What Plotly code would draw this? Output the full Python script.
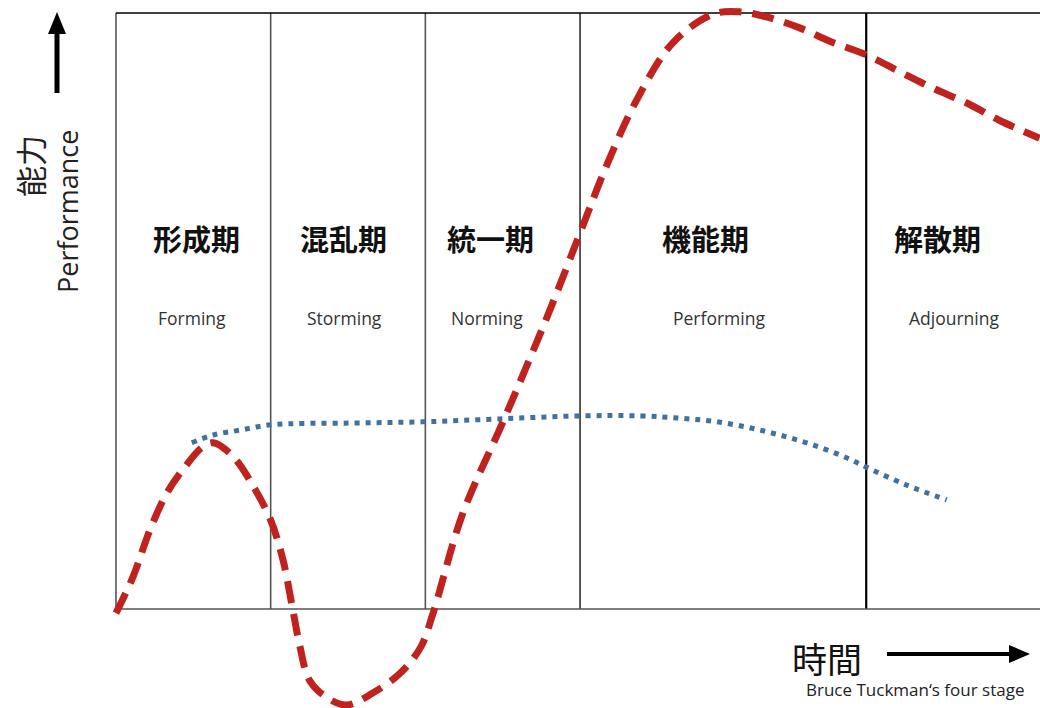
import plotly.graph_objects as go

# Stage names (Japanese / English) and the time at which each stage starts
stages_jp = ["形成期", "混乱期", "統一期", "機能期", "解散期"]
stages_en = ["Forming", "Storming", "Norming", "Performing", "Adjourning"]
stage_bounds = [0, 1, 2, 3, 4.85]

# Team performance over time (red dashed curve)
perf_t = [0.0, 0.11, 0.22, 0.33, 0.43, 0.56, 0.63, 0.76, 0.89, 1.0, 1.08, 1.14,
          1.19, 1.25, 1.36, 1.49, 1.66, 1.84, 1.97, 2.05, 2.24, 2.51, 2.79, 2.99,
          3.17, 3.37, 3.60, 3.86, 4.03, 4.21, 4.42, 4.63, 4.85, 5.07, 5.28, 5.50,
          5.71, 5.97]
perf_v = [-0.7, 5.4, 13.3, 19.5, 23.3, 27.2, 27.9, 25.5, 20.5, 14.9, 8.2, 0.3,
          -6.4, -11.9, -14.8, -16.1, -14.1, -10.7, -6.4, -0.7, 15.9, 31.9, 49.2,
          62.4, 74.3, 85.6, 95.0, 99.8, 100.2, 99.3, 97.5, 95.1, 93.0, 90.1, 87.4,
          84.9, 82.0, 79.0]

# Individual level (blue dotted curve)
ind_t = [0.49, 0.63, 0.80, 1.0, 1.51, 1.98, 2.48, 3.0, 3.39, 3.65, 3.86, 4.08,
         4.29, 4.51, 4.73, 4.85, 5.11, 5.37]
ind_v = [27.9, 29.2, 30.0, 30.9, 31.2, 31.4, 31.9, 32.4, 32.4, 32.0, 31.5, 30.5,
         29.2, 27.5, 25.3, 23.8, 20.8, 18.3]

X_RANGE = [-0.7498, 5.9735]
Y_RANGE = [-16.61, 102.18]

fig = go.Figure()

fig.add_trace(go.Scatter(
    x=ind_t, y=ind_v, mode="lines", line_shape="spline",
    line=dict(color="#41719C", width=5, dash="5px,6px"),
    hoverinfo="skip", showlegend=False))

fig.add_trace(go.Scatter(
    x=perf_t, y=perf_v, mode="lines", line_shape="spline",
    line=dict(color="#C0231E", width=7, dash="22px,11px"),
    hoverinfo="skip", showlegend=False))

shapes = []
# stage dividers
divider_style = ["#555555", "#555555", "#555555", "#111111", "#000000"]
divider_width = [1.6, 1.6, 1.6, 1.4, 2.2]
for b, c, w in zip(stage_bounds, divider_style, divider_width):
    shapes.append(dict(type="line", xref="x", yref="y", x0=b, x1=b, y0=0, y1=100,
                       line=dict(color=c, width=w), layer="below"))
# top and bottom frame
shapes.append(dict(type="line", xref="x", yref="y", x0=0, x1=X_RANGE[1], y0=100, y1=100,
                   line=dict(color="#000000", width=1.5), layer="below"))
shapes.append(dict(type="line", xref="x", yref="y", x0=0, x1=X_RANGE[1], y0=0, y1=0,
                   line=dict(color="#555555", width=1.6), layer="below"))

W, H = 1040, 708


def px(x):
    return x / W


def py(y):
    return 1 - y / H


# vertical arrow (performance)
shapes.append(dict(type="line", xref="paper", yref="paper",
                   x0=px(57), x1=px(57), y0=py(93), y1=py(30),
                   line=dict(color="#000000", width=5)))
shapes.append(dict(type="path", xref="paper", yref="paper",
                   path=f"M {px(57)} {py(12)} L {px(48)} {py(34)} L {px(66)} {py(34)} Z",
                   fillcolor="#000000", line=dict(width=0)))
# horizontal arrow (time)
shapes.append(dict(type="line", xref="paper", yref="paper",
                   x0=px(887), x1=px(1012), y0=py(654), y1=py(654),
                   line=dict(color="#000000", width=4)))
shapes.append(dict(type="path", xref="paper", yref="paper",
                   path=f"M {px(1030)} {py(654)} L {px(1009)} {py(645)} L {px(1009)} {py(663)} Z",
                   fillcolor="#000000", line=dict(width=0)))

annotations = []
jp_x = [0.52, 1.47, 2.42, 3.81, 5.31]
en_x = [0.49, 1.48, 2.40, 3.90, 5.42]
for name, x in zip(stages_jp, jp_x):
    annotations.append(dict(x=x, y=62.2, xref="x", yref="y", text=f"<b>{name}</b>",
                            showarrow=False, xanchor="center", yanchor="middle",
                            font=dict(family="Noto Sans CJK JP", size=29, color="#111111")))
for name, x in zip(stages_en, en_x):
    annotations.append(dict(x=x, y=48.9, xref="x", yref="y", text=name, showarrow=False,
                            xanchor="center", yanchor="middle",
                            font=dict(family="Open Sans", size=17.5, color="#333333")))

annotations += [
    dict(x=px(29), y=py(166), xref="paper", yref="paper", text="能力", textangle=-90,
         xanchor="center", yanchor="middle",
         showarrow=False, font=dict(family="Noto Sans CJK JP", size=31, color="#222222")),
    dict(x=px(67), y=py(212), xref="paper", yref="paper", text="Performance", textangle=-90,
         xanchor="center", yanchor="middle",
         showarrow=False, font=dict(family="Open Sans", size=27, color="#222222")),
    dict(x=px(827), y=py(657), xref="paper", yref="paper", text="時間",
         xanchor="center", yanchor="middle",
         showarrow=False, font=dict(family="Noto Sans CJK JP", size=35, color="#111111")),
    dict(x=px(804), y=py(689), xref="paper", yref="paper", text="Bruce Tuckman‘s four stage",
         xanchor="left", yanchor="middle", showarrow=False,
         font=dict(family="Open Sans", size=17, color="#222222")),
]

fig.update_layout(
    width=W, height=H,
    margin=dict(l=0, r=0, t=0, b=0),
    paper_bgcolor="white", plot_bgcolor="white",
    xaxis=dict(range=X_RANGE, visible=False, fixedrange=True),
    yaxis=dict(range=Y_RANGE, visible=False, fixedrange=True),
    shapes=shapes, annotations=annotations,
    showlegend=False,
)

fig.write_html("out.html")
